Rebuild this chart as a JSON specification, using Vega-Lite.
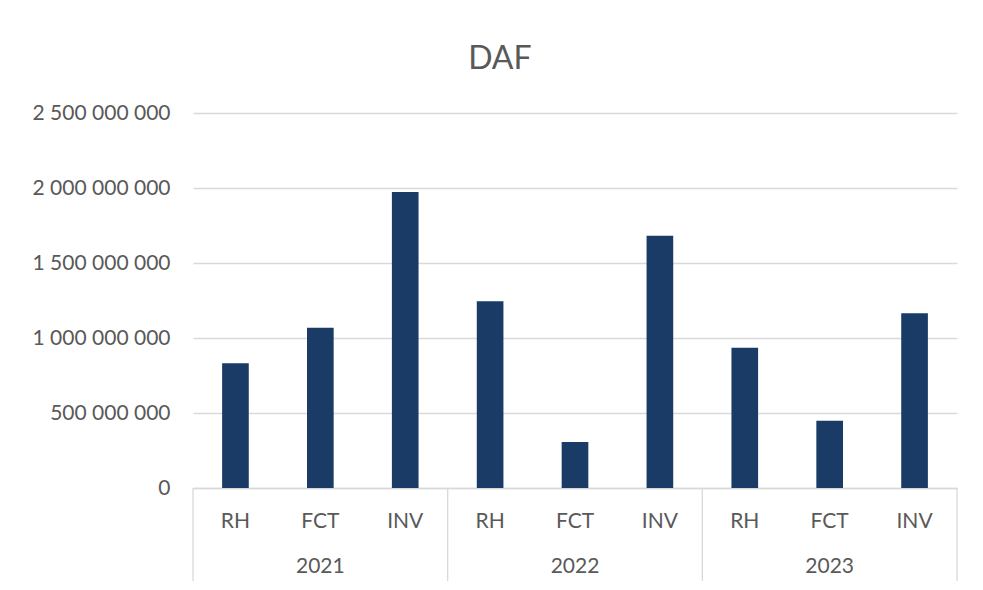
{
  "$schema": "https://vega.github.io/schema/vega-lite/v6.json",
  "width": 764,
  "height": 375,
  "autosize": {"type": "none"},
  "padding": {"left": 193, "top": 113, "right": 26, "bottom": 102},
  "background": "white",
  "config": {
    "font": "Lato",
    "view": {"stroke": null},
    "locale": {"number": {"decimal": ",", "thousands": " ", "grouping": [3], "currency": ["", " €"]}}
  },
  "title": {
    "text": "DAF",
    "fontSize": 32,
    "fontWeight": "normal",
    "color": "#595959",
    "font": "Lato",
    "anchor": "middle",
    "frame": "bounds",
    "offset": 26,
    "dx": 5
  },
  "data": {
    "values": [
      {"key": "2021 RH", "year": "2021", "cat": "RH", "value": 832000000},
      {"key": "2021 FCT", "year": "2021", "cat": "FCT", "value": 1068000000},
      {"key": "2021 INV", "year": "2021", "cat": "INV", "value": 1973000000},
      {"key": "2022 RH", "year": "2022", "cat": "RH", "value": 1245000000},
      {"key": "2022 FCT", "year": "2022", "cat": "FCT", "value": 306000000},
      {"key": "2022 INV", "year": "2022", "cat": "INV", "value": 1682000000},
      {"key": "2023 RH", "year": "2023", "cat": "RH", "value": 935000000},
      {"key": "2023 FCT", "year": "2023", "cat": "FCT", "value": 449000000},
      {"key": "2023 INV", "year": "2023", "cat": "INV", "value": 1165000000}
    ]
  },
  "encoding": {
    "x": {
      "field": "key",
      "type": "nominal",
      "sort": null,
      "scale": {"type": "band", "paddingInner": 0, "paddingOuter": 0},
      "axis": {
        "title": null,
        "labelExpr": "split(datum.label, ' ')[1]",
        "labelAngle": 0,
        "labelFont": "Lato",
        "labelFontSize": 21,
        "labelColor": "#595959",
        "labelPadding": 22,
        "ticks": false,
        "grid": false,
        "domainColor": "#d9d9d9",
        "domainWidth": 1.3
      }
    }
  },
  "layer": [
    {
      "mark": {"type": "bar", "color": "#1a3b66", "width": {"band": 0.314}},
      "encoding": {
        "y": {
          "field": "value",
          "type": "quantitative",
          "scale": {"domain": [0, 2500000000], "nice": false, "zero": true},
          "axis": {
            "title": null,
            "values": [0, 500000000, 1000000000, 1500000000, 2000000000, 2500000000],
            "format": ",d",
            "labelFont": "Lato",
            "labelFontSize": 21,
            "labelColor": "#595959",
            "labelPadding": 23,
            "ticks": false,
            "domain": false,
            "gridColor": "#d9d9d9",
            "gridWidth": 1.3
          }
        }
      }
    },
    {
      "transform": [{"filter": "datum.cat === 'RH'"}],
      "mark": {"type": "rule", "color": "#d9d9d9", "strokeWidth": 1.3},
      "encoding": {
        "x": {"field": "key", "type": "nominal", "sort": null, "bandPosition": 0},
        "y": {"datum": 0, "type": "quantitative"},
        "y2": {"datum": -620000000}
      }
    },
    {
      "transform": [{"filter": "datum.key === '2023 INV'"}],
      "mark": {"type": "rule", "color": "#d9d9d9", "strokeWidth": 1.3},
      "encoding": {
        "x": {"field": "key", "type": "nominal", "sort": null, "bandPosition": 1},
        "y": {"datum": 0, "type": "quantitative"},
        "y2": {"datum": -620000000}
      }
    },
    {
      "transform": [{"filter": "datum.cat === 'FCT'"}],
      "mark": {"type": "text", "font": "Lato", "fontSize": 21, "color": "#595959", "baseline": "middle", "dy": 79},
      "encoding": {
        "x": {"field": "key", "type": "nominal", "sort": null},
        "y": {"datum": 0, "type": "quantitative"},
        "text": {"field": "year"}
      }
    }
  ]
}
